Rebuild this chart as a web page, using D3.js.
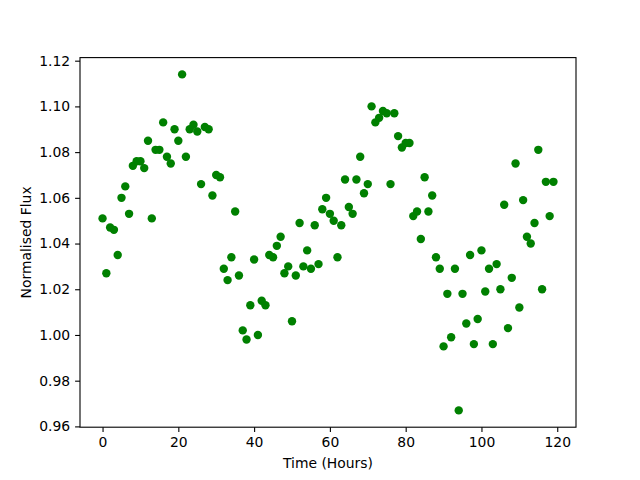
<!DOCTYPE html>
<html lang="en">
<head>
<meta charset="UTF-8">
<title></title>
<script src="https://d3js.org/d3.v7.min.js"></script>
<style>
  body { margin: 0; background: #fff; }
  text { font-family: "DejaVu Sans", sans-serif; }
</style>
</head>
<body>
<script>
// hours 0..119, one reading per hour
var hours = d3.range(0, 120);
var flux = [
  1.051, 1.027, 1.047, 1.046, 1.035, 1.060, 1.065, 1.053, 1.074, 1.076,
  1.076, 1.073, 1.085, 1.051, 1.081, 1.081, 1.093, 1.078, 1.075, 1.090,
  1.085, 1.114, 1.078, 1.090, 1.092, 1.089, 1.066, 1.091, 1.090, 1.061,
  1.070, 1.069, 1.029, 1.024, 1.034, 1.054, 1.026, 1.002, 0.998, 1.013,
  1.033, 1.000, 1.015, 1.013, 1.035, 1.034, 1.039, 1.043, 1.027, 1.030,
  1.006, 1.026, 1.049, 1.030, 1.037, 1.029, 1.048, 1.031, 1.055, 1.060,
  1.053, 1.050, 1.034, 1.048, 1.068, 1.056, 1.053, 1.068, 1.078, 1.062,
  1.066, 1.100, 1.093, 1.095, 1.098, 1.097, 1.066, 1.097, 1.087, 1.082,
  1.084, 1.084, 1.052, 1.054, 1.042, 1.069, 1.054, 1.061, 1.034, 1.029,
  0.995, 1.018, 0.999, 1.029, 0.967, 1.018, 1.005, 1.035, 0.996, 1.007,
  1.037, 1.019, 1.029, 0.996, 1.031, 1.020, 1.057, 1.003, 1.025, 1.075,
  1.012, 1.059, 1.043, 1.040, 1.049, 1.081, 1.020, 1.067, 1.052, 1.067
];
var xTicks = [0, 20, 40, 60, 80, 100, 120];
var yTicks = [0.96, 0.98, 1.00, 1.02, 1.04, 1.06, 1.08, 1.10, 1.12];

var W = 640, H = 480;
var mLeft = 80, mRight = 576, mTop = 57.6, mBottom = 427.2;

var svg = d3.select("body").append("svg").attr("width", W).attr("height", H);

function pad(ext) {
  var m = (ext[1] - ext[0]) * 0.05;
  return [ext[0] - m, ext[1] + m];
}
var x = d3.scaleLinear().domain(pad(d3.extent(hours))).range([mLeft, mRight]);
var y = d3.scaleLinear().domain(pad(d3.extent(flux))).range([mBottom, mTop]);

var pts = hours.map(function(h, i) { return {h: h, f: flux[i]}; });

svg.append("g")
  .selectAll("circle")
  .data(pts)
  .enter()
  .append("circle")
  .attr("cx", function(d) { return x(d.h); })
  .attr("cy", function(d) { return y(d.f); })
  .attr("r", 4.2)
  .style("fill", "#008000");

var xAxis = svg.append("g")
  .attr("transform", "translate(0," + mBottom + ")")
  .call(d3.axisBottom(x).tickValues(xTicks).tickSize(4.9).tickPadding(4.9).tickFormat(d3.format("d")));
var yAxis = svg.append("g")
  .attr("transform", "translate(" + mLeft + ",0)")
  .call(d3.axisLeft(y).tickValues(yTicks).tickSize(4.9).tickPadding(4.9).tickFormat(d3.format(".2f")));

[xAxis, yAxis].forEach(function(a) {
  a.select(".domain").remove();
  a.selectAll("line").attr("stroke", "#000").attr("stroke-width", 1.1);
  a.selectAll("text").attr("font-size", "13.9px").attr("fill", "#000")
    .style("font-family", "'DejaVu Sans', sans-serif");
});

svg.append("rect")
  .attr("x", mLeft).attr("y", mTop)
  .attr("width", mRight - mLeft).attr("height", mBottom - mTop)
  .attr("fill", "none").attr("stroke", "#000").attr("stroke-width", 1.1);

svg.append("text")
  .attr("x", (mLeft + mRight) / 2).attr("y", 468)
  .attr("text-anchor", "middle").attr("font-size", "13.9px")
  .text("Time (Hours)");

svg.append("text")
  .attr("transform", "translate(31," + (mTop + mBottom) / 2 + ") rotate(-90)")
  .attr("text-anchor", "middle").attr("font-size", "13.9px")
  .text("Normalised Flux");
</script>
</body>
</html>
